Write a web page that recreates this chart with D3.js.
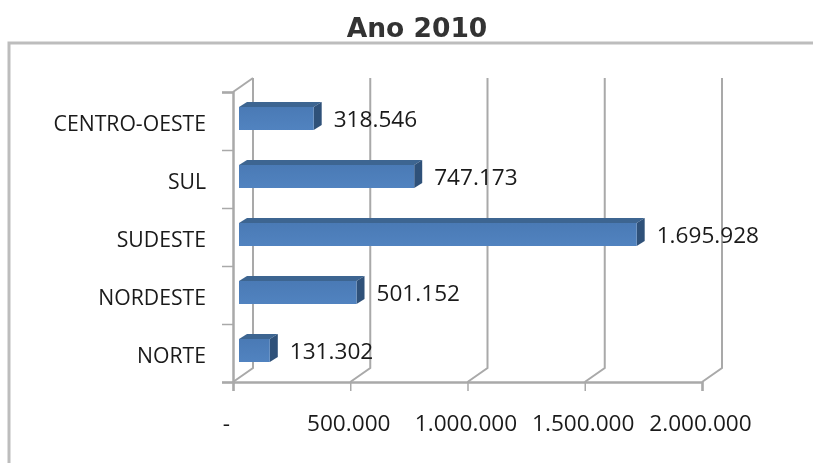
<!DOCTYPE html>
<html>
<head>
<meta charset="utf-8">
<script src="https://cdnjs.cloudflare.com/ajax/libs/d3/7.8.5/d3.min.js"></script>
<style>
  html, body { margin: 0; padding: 0; background: #fff; }
  svg { display: block; filter: blur(0.45px); }
  text { font-family: "Open Sans", sans-serif; fill: #1a1a1a; }
</style>
</head>
<body>
<script>
const title = "Ano 2010";
const categories = ["CENTRO-OESTE", "SUL", "SUDESTE", "NORDESTE", "NORTE"];
const values = [318546, 747173, 1695928, 501152, 131302];
const valueTicks = [0, 500000, 1000000, 1500000, 2000000];

const width = 813, height = 463;
const depthX = 20, depthY = 14;   // back wall offset of the fake 3d
const barDepthX = 8, barDepthY = 5;
const gridColor = "#a9a9a9";

const svg = d3.select("body").append("svg")
    .attr("width", width)
    .attr("height", height);

// gradient on the front of the bars
const grad = svg.append("defs").append("linearGradient")
    .attr("id", "barFront")
    .attr("x1", 0).attr("y1", 0).attr("x2", 0).attr("y2", 1);
grad.append("stop").attr("offset", "0%").attr("stop-color", "#4a7ab5");
grad.append("stop").attr("offset", "100%").attr("stop-color", "#5183c0");

// outer frame, only top and left are visible in the picture
svg.append("path")
    .attr("d", "M9,463V43H813")
    .attr("fill", "none")
    .attr("stroke", "#bdbdbd")
    .attr("stroke-width", 3);

svg.append("text")
    .attr("x", 417)
    .attr("y", 37)
    .attr("text-anchor", "middle")
    .style("font-family", "'DejaVu Sans', sans-serif")
    .style("font-weight", "bold")
    .style("font-size", "26.5px")
    .style("fill", "#333")
    .text(title);

const x = d3.scaleLinear().domain([0, 2000000]).range([233, 702]);
const y = d3.scaleBand().domain(categories).range([92, 382]);

const fmt = d3.formatLocale({ decimal: ",", thousands: ".", grouping: [3], currency: ["", ""] }).format(",d");

// Walls and gridlines
const grid = svg.append("g")
    .attr("fill", "none")
    .attr("stroke", gridColor)
    .attr("stroke-width", 2);

valueTicks.forEach(t => {
    grid.append("path")
        .attr("d", `M${x(t)},${y.range()[1]}l${depthX},${-depthY}V${y.range()[0] - depthY}`);
});

// top corner of the side wall
grid.append("path")
    .attr("d", `M${x(0)},${y.range()[0]}l${depthX},${-depthY}`);

// Y axis, ticks sit between the categories
const yEdges = d3.range(categories.length + 1).map(i => y.range()[0] + i * y.step());
const yAxis = d3.axisLeft(d3.scaleIdentity().domain(y.range()))
    .tickValues(yEdges)
    .tickSize(11)
    .tickFormat("");
const yG = svg.append("g").attr("transform", `translate(${x(0)},0)`).call(yAxis);
yG.select(".domain").attr("stroke", gridColor).attr("stroke-width", 2.5);
yG.selectAll(".tick line").attr("stroke", gridColor).attr("stroke-width", 1.5);

// Category labels
svg.append("g").selectAll("text")
    .data(categories)
    .enter().append("text")
    .attr("x", 206)
    .attr("y", d => y(d) + y.bandwidth() / 2 + 2)
    .attr("dy", "0.36em")
    .attr("text-anchor", "end")
    .style("font-size", "21.2px")
    .text(d => d);

// X axis
const xAxis = d3.axisBottom(x)
    .tickValues(valueTicks)
    .tickSize(9)
    .tickPadding(24)
    .tickFormat(d => d === 0 ? "-" : fmt(d));
const xG = svg.append("g").attr("transform", `translate(0,${y.range()[1]})`).call(xAxis);
xG.select(".domain").attr("stroke", gridColor).attr("stroke-width", 2.5);
xG.selectAll(".tick line").attr("stroke", gridColor).attr("stroke-width", 1.5);
xG.selectAll("text")
    .attr("fill", "#1a1a1a")
    .attr("dx", d => d === 0 ? -7 : -2)
    .style("font-family", "'Open Sans', sans-serif")
    .style("font-size", "22.6px");

// Bars
const barH = 23;
const barX0 = x(0) + 6;
const barLen = d => x(d) - x(0);
const barTop = d => y(d) + y.bandwidth() / 2 - 14;
const data = categories.map((c, i) => ({ c, v: values[i] }));

const bars = svg.append("g").selectAll("g")
    .data(data)
    .enter().append("g");

bars.append("path")
    .attr("fill", "#3d6591")
    .attr("d", d => `M${barX0},${barTop(d.c)}l${barDepthX},${-barDepthY}h${barLen(d.v)}l${-barDepthX},${barDepthY}z`);

bars.append("path")
    .attr("fill", "#2f5179")
    .attr("d", d => `M${barX0 + barLen(d.v)},${barTop(d.c)}l${barDepthX},${-barDepthY}v${barH}l${-barDepthX},${barDepthY}z`);

bars.append("rect")
    .attr("x", barX0)
    .attr("y", d => barTop(d.c))
    .attr("width", d => barLen(d.v))
    .attr("height", barH)
    .attr("fill", "url(#barFront)");

// Value labels
bars.append("text")
    .attr("x", d => barX0 + barLen(d.v) + barDepthX + 12)
    .attr("y", d => barTop(d.c) + 12)
    .attr("dy", "0.36em")
    .style("font-size", "22.6px")
    .text(d => fmt(d.v));
</script>
</body>
</html>
